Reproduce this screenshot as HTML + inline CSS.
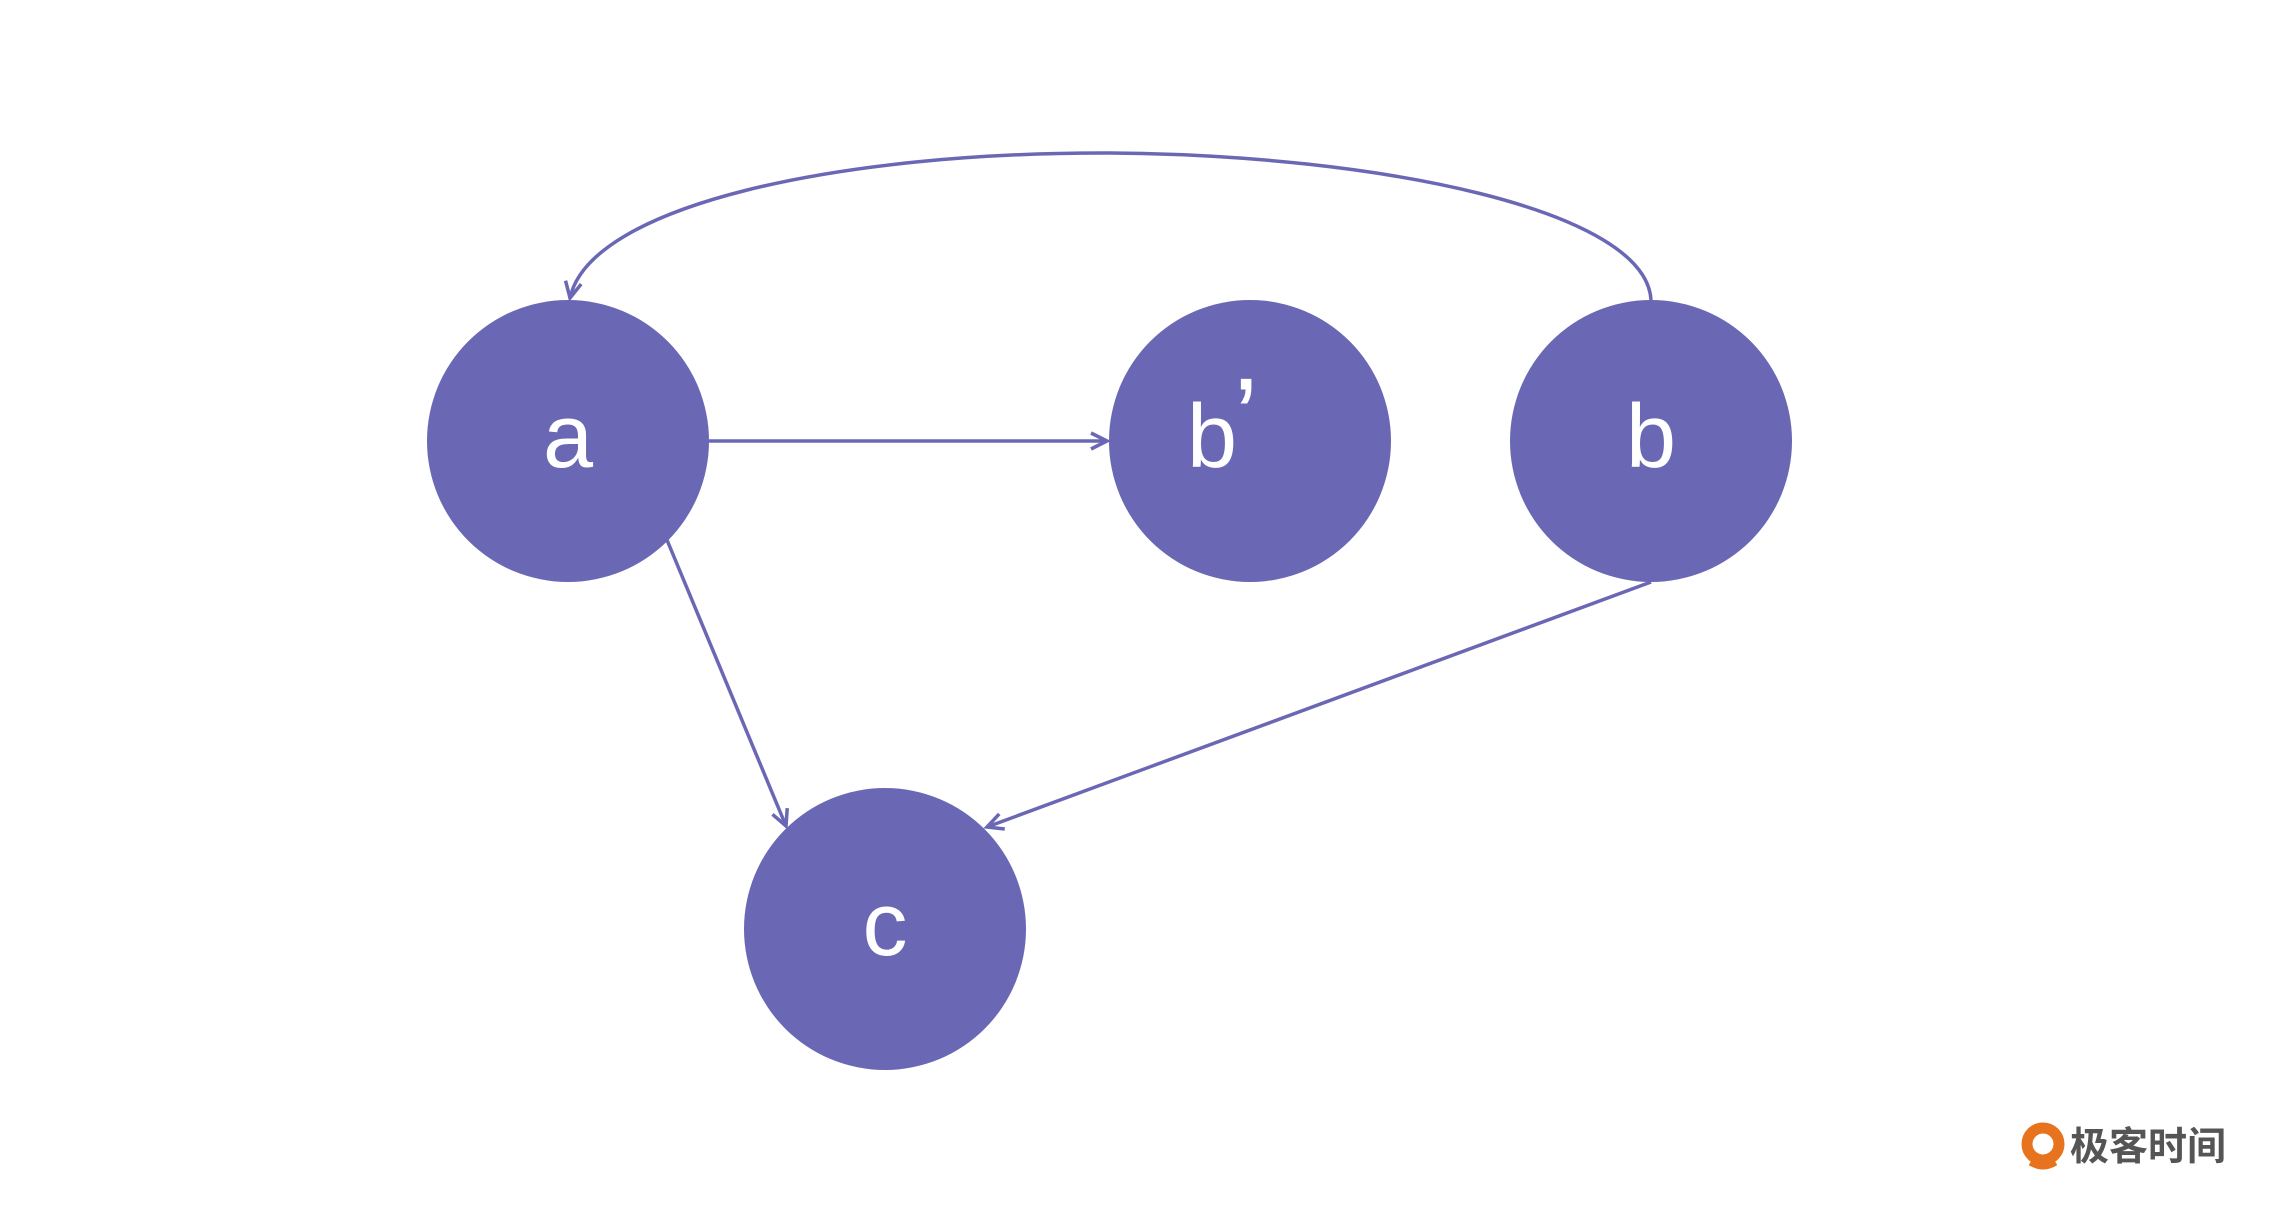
<!DOCTYPE html>
<html><head><meta charset="utf-8"><style>
html,body{margin:0;padding:0;background:#fff;}
svg{display:block}
</style></head><body>
<svg width="2284" height="1223" viewBox="0 0 2284 1223" xmlns="http://www.w3.org/2000/svg">
<defs>
<marker id="ar" markerWidth="24" markerHeight="24" refX="20" refY="12" orient="auto" markerUnits="userSpaceOnUse">
<path d="M4,4 L20,12 L4,20" fill="none" stroke="#6a68b4" stroke-width="3.5"/>
</marker>
</defs>
<g fill="#6a68b4">
<circle cx="568" cy="441" r="141"/>
<circle cx="1250" cy="441" r="141"/>
<circle cx="1651" cy="441" r="141"/>
<circle cx="885" cy="929" r="141"/>
</g>
<g stroke="#6a68b4" stroke-width="3.5" fill="none">
<path d="M1651,300 C1646,210 1380,155 1110,153 C840,152 590,205 570,298" marker-end="url(#ar)"/>
<line x1="709" y1="441" x2="1107" y2="441" marker-end="url(#ar)"/>
<line x1="667" y1="540" x2="786" y2="826" marker-end="url(#ar)"/>
<line x1="1651" y1="582" x2="987" y2="827" marker-end="url(#ar)"/>
</g>
<g fill="#fff" font-family="'Liberation Sans',sans-serif" font-size="90" text-anchor="middle">
<text x="568" y="467">a</text>
<text x="1212" y="467">b</text>
<text x="1246" y="455" font-size="110">’</text>
<text x="1651" y="467">b</text>
<text x="885" y="955">c</text>
</g>
<circle cx="2043" cy="1144" r="16" fill="none" stroke="#e8731f" stroke-width="11"/>
<path d="M2030,1163 Q2043,1171 2056,1163" stroke="#e8731f" stroke-width="5" fill="none"/>
<text x="2070" y="1160" font-family="'Liberation Sans','Noto Sans CJK SC',sans-serif" font-size="39" font-weight="bold" fill="#555">极客时间</text>
</svg>
</body></html>
